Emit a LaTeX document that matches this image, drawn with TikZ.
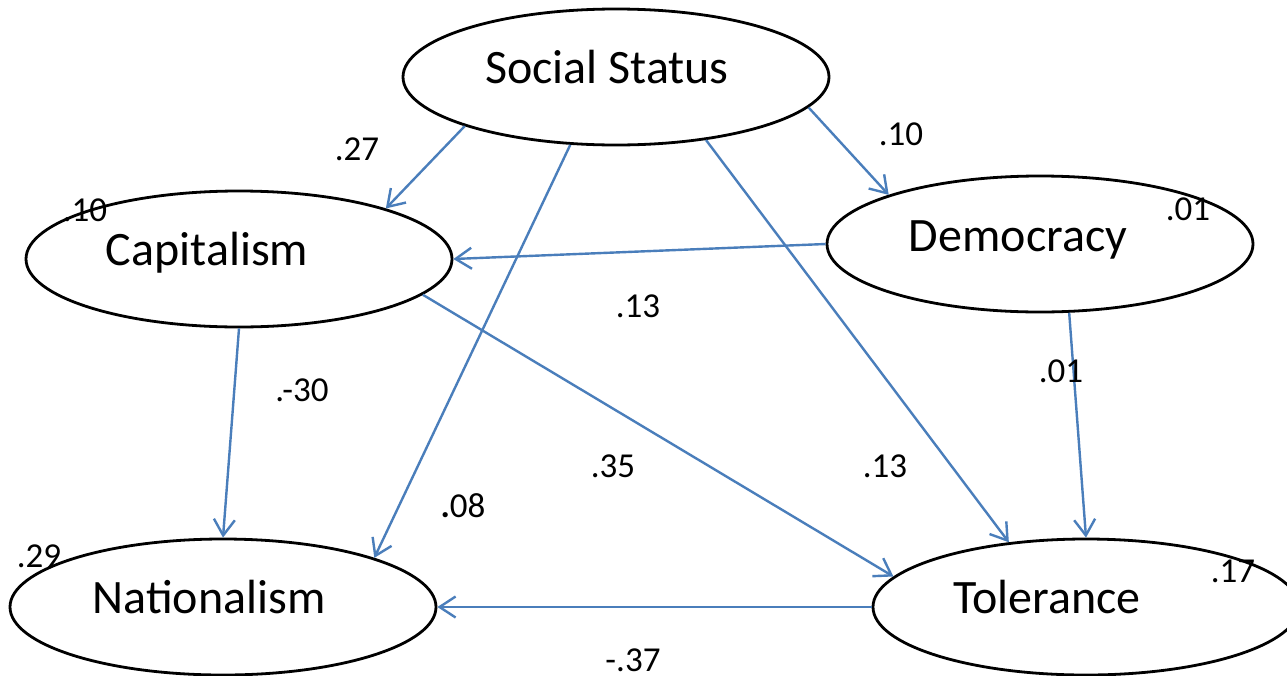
\documentclass[tikz,border=0pt]{standalone}
\usepackage{fontspec}
\setmainfont{Carlito}
\usetikzlibrary{shapes.geometric,arrows.meta}
\definecolor{linkblue}{RGB}{74,126,187}
\begin{document}
\begin{tikzpicture}[x=1pt,y=-1pt,
  var/.style={ellipse, draw, line width=2.8pt, minimum width=426pt, minimum height=136pt, inner sep=0pt},
  vartext/.style={anchor=base, font=\fontsize{48}{52}\selectfont},
  coef/.style={anchor=base, inner sep=0pt, font=\fontsize{35}{40}\selectfont},
  link/.style={draw=linkblue, line width=2.4pt, -{Straight Barb[length=16pt,width=21pt]}}]
\useasboundingbox[fill=white] (0,0) rectangle (1287,675);
% variables
\node[var] (soc) at (616,77){};
\node[var] (cap) at (239,259){};
\node[var] (dem) at (1040,244){};
\node[var] (nat) at (223,607){};
\node[var] (tol) at (1086,607){};
\node[vartext] (soctxt) at (607,83){Social Status};
\node[vartext] (captxt) at (207,265){Capitalism};
\node[vartext] (demtxt) at (1018,251){Democracy};
\node[vartext] (nattxt) at (209,613){Nationalism};
\node[vartext] (toltxt) at (1047,613){Tolerance};
% paths
\draw[link] (soc.198) -- (cap.19);
\draw[link] (soc.236) -- (nat.18);
\draw[link] (soc.325) -- (tol.140);
\draw[link] (soc.351) -- (dem.162);
\draw[link] (dem.west) -- (cap.east);
\draw[link] (cap.south) -- (nat.north);
\draw[link] (cap.349) -- (tol.171);
\draw[link] (dem.293) -- (tol.north);
\draw[link] (tol.west) -- (nat.east);
% coefficients
\node[coef] (c0) at (357,160){.27};
\node[coef] (c1) at (901,145){.10};
\node[coef] (c2) at (85,221){.10};
\node[coef] (c3) at (1188,220){.01};
\node[coef] (c4) at (638,317){.13};
\node[coef] (c5) at (302,401){.-30};
\node[coef] (c6) at (1061,382){.01};
\node[coef] (c7) at (613,477){.35};
\node[coef] (c8) at (885,477){.13};
\node[coef] (c9) at (463,517){\textbf{.}08};
\node[coef] (c10) at (39,567){.29};
\node[coef] (c11) at (1233,582){.17};
\node[coef] (c12) at (633,671){-.37};
\end{tikzpicture}
\end{document}
